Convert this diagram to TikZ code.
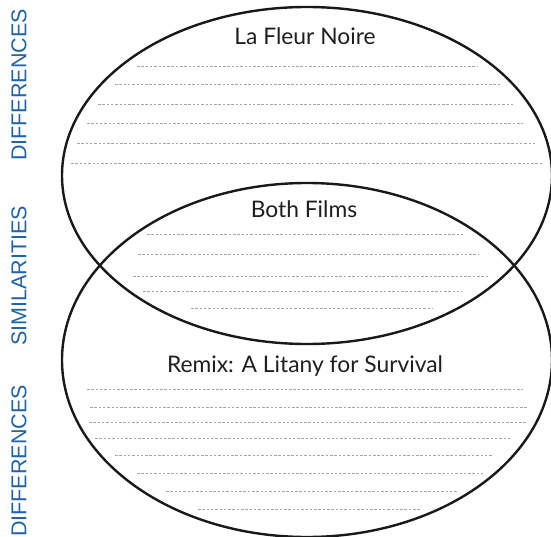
\documentclass[tikz,border=0pt]{standalone}
\usepackage{fontspec}
\setmainfont{Lato}
\newfontfamily\sidefont{Liberation Sans}
\usepackage{tikz}
\usetikzlibrary{positioning}
\definecolor{SideBlue}{RGB}{31, 99, 168}
\definecolor{RuleGray}{RGB}{165, 165, 165}

\begin{document}
\begin{tikzpicture}[x=1pt, y=-1pt,
    side/.style={rotate=90, text=SideBlue, font=\sidefont\fontsize{21.5}{24}\selectfont, inner sep=0pt},
    title/.style={anchor=base, font=\fontsize{22.8}{26}\selectfont, text=black!88, inner sep=0pt},
    rule/.style={RuleGray, line width=0.7pt, dash pattern=on 2.5pt off 1.8pt},
    ring/.style={black!90, line width=2.4pt}]
    \useasboundingbox (0,0) rectangle (551,537);

    % --- Side labels ---
    \node[side] (diffTop) at (19,85) {DIFFERENCES};
    \node[side] (simMid) at (19,276) {SIMILARITIES};
    \node[side] (diffBot) at (19,461) {DIFFERENCES};

    % --- Ellipses ---
    \draw[ring] (307,175.5) ellipse [x radius=245, y radius=168.5];
    \draw[ring] (307,360) ellipse [x radius=245, y radius=177];

    % --- Titles ---
    \node[title] (fleur) at (305,45) {La Fleur Noire};
    \node[title] (both) at (304,218) {Both Films};
    \node[title] (remix) at (305,372) {Remix: A Litany for Survival};

    % --- Writing lines: y / start / end ---
    \foreach \y/\a/\b in {66/137/478, 84/115/500, 104/98/515, 123/87/523, 143/77/535, 163/71/543}
        \draw[rule] (\a,\y) -- (\b,\y);
    \foreach \y/\a/\b in {234/147/465, 254/138/478, 276/133/489, 291/143/462, 308/191/432}
        \draw[rule] (\a,\y) -- (\b,\y);
    \foreach \y/\a/\b in {389/87/523, 407/90/527, 422/89/526, 438/95/512, 455/115/493, 473/137/483, 491/166/458, 509/198/421}
        \draw[rule] (\a,\y) -- (\b,\y);
\end{tikzpicture}
\end{document}
